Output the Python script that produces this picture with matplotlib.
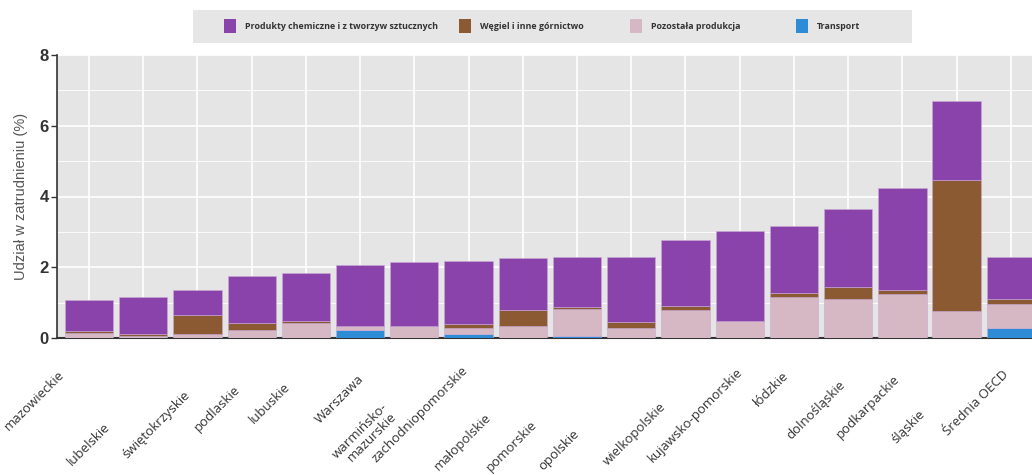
import numpy as np
import matplotlib.pyplot as plt
import matplotlib.transforms as mtransforms
from matplotlib.patches import Rectangle

regions = ['mazowieckie', 'lubelskie', 'świętokrzyskie', 'podlaskie', 'lubuskie',
           'Warszawa', 'warmińsko-\nmazurskie', 'zachodniopomorskie', 'małopolskie',
           'pomorskie', 'opolskie', 'wielkopolskie', 'kujawsko-pomorskie', 'łódzkie',
           'dolnośląskie', 'podkarpackie', 'śląskie', 'Średnia OECD']
transport = [0, 0, 0, 0, 0, 0.23, 0, 0.12, 0, 0.07, 0, 0, 0, 0, 0, 0, 0, 0.28]
pozostala = [0.14, 0.06, 0.12, 0.24, 0.43, 0.12, 0.34, 0.17, 0.35, 0.74, 0.28, 0.78,
             0.49, 1.17, 1.11, 1.25, 0.76, 0.67]
wegiel = [0.05, 0.06, 0.54, 0.17, 0.05, 0, 0, 0.10, 0.43, 0.07, 0.18, 0.13,
          0, 0.09, 0.32, 0.10, 3.70, 0.14]
chemia = [0.88, 1.05, 0.69, 1.33, 1.36, 1.70, 1.82, 1.79, 1.48, 1.40, 1.84, 1.85,
          2.53, 1.90, 2.22, 2.88, 2.24, 1.19]

series = [('Transport', transport, '#2e8cd6'),
          ('Pozostała produkcja', pozostala, '#d6b8c4'),
          ('Węgiel i inne górnictwo', wegiel, '#8b5a33'),
          ('Produkty chemiczne i z tworzyw sztucznych', chemia, '#8a43aa')]

# label placement offsets (px) to mimic the staggered labels
lab_dx = [-27, -35, -9, -13, -18, 2, -24, -3, -34, -42, -54, -22, 1, -8, -5, -5, -34, -4]
lab_dy = [35, 87, 55, 50, 47, 39, 72, 30, 77, 85, 94, 67, 32, 37, 45, 39, 74, 35]

fig = plt.figure(figsize=(10.32, 4.75), dpi=100)
ax = fig.add_axes([57 / 1032, 1 - 338 / 475, 1 - 57 / 1032, (338 - 55) / 475])
ax.set_facecolor('#e5e5e5')

x = np.arange(len(regions))
bottom = np.zeros(len(regions))
for name, vals, col in series:
    ax.bar(x, vals, 0.89, bottom=bottom, color=col, edgecolor='#c9a9d6',
           linewidth=0.4, zorder=3, label=name)
    bottom += np.array(vals)

ax.set_xlim(-0.59, 17.39)
ax.set_ylim(0, 8)
ax.set_yticks([0, 2, 4, 6, 8])
ax.set_yticks([1, 3, 5, 7], minor=True)
ax.set_xticks(x)
ax.set_xticklabels([])
ax.tick_params(axis='x', length=0)
ax.tick_params(axis='y', which='major', length=4, width=1, color='#333333',
               labelsize=12, labelcolor='#333333', pad=2)
ax.tick_params(axis='y', which='minor', length=0)
for t in ax.get_yticklabels():
    t.set_fontweight('bold')
    t.set_fontfamily('Liberation Sans')
ax.grid(which='major', color='white', linewidth=1.2, zorder=0)
ax.grid(which='minor', axis='y', color='white', linewidth=0.6, zorder=0)
ax.set_axisbelow(True)
for s in ['top', 'right']:
    ax.spines[s].set_visible(False)
ax.spines['bottom'].set_color('#333333')
ax.spines['bottom'].set_linewidth(1.5)
ax.spines['left'].set_color('#333333')
ax.spines['left'].set_linewidth(1.2)
ax.set_ylabel('Udział w zatrudnieniu (%)', fontsize=10.5, color='#555555',
              family='Liberation Sans', labelpad=8)

base = mtransforms.blended_transform_factory(ax.transData, ax.transAxes)
for i, lab in enumerate(regions):
    off = mtransforms.ScaledTranslation(lab_dx[i] / 100, -lab_dy[i] / 100, fig.dpi_scale_trans)
    ax.text(i, 0, lab, transform=base + off, rotation=45, rotation_mode='anchor',
            ha='right', va='center', fontsize=9.5, color='#333333',
            family='Open Sans', clip_on=False, linespacing=1.0)

# legend box drawn at the top
fig.patches.append(Rectangle((193 / 1032, 1 - 43 / 475), (912 - 193) / 1032, 33 / 475,
                             transform=fig.transFigure, facecolor='#e6e6e6',
                             edgecolor='none'))
leg_x = [224, 459, 630, 796]
leg_order = [3, 2, 1, 0]
for lx, k in zip(leg_x, leg_order):
    name, vals, col = series[k]
    fig.patches.append(Rectangle((lx / 1032, 1 - 33 / 475), 12 / 1032, 14 / 475,
                                 transform=fig.transFigure, facecolor=col,
                                 edgecolor='none'))
    fig.text((lx + 21) / 1032, 1 - 26.5 / 475, name, fontsize=6.4, fontweight='bold',
             color='#333333', va='center', ha='left', family='Open Sans')

fig.savefig('out.png', dpi=100)
